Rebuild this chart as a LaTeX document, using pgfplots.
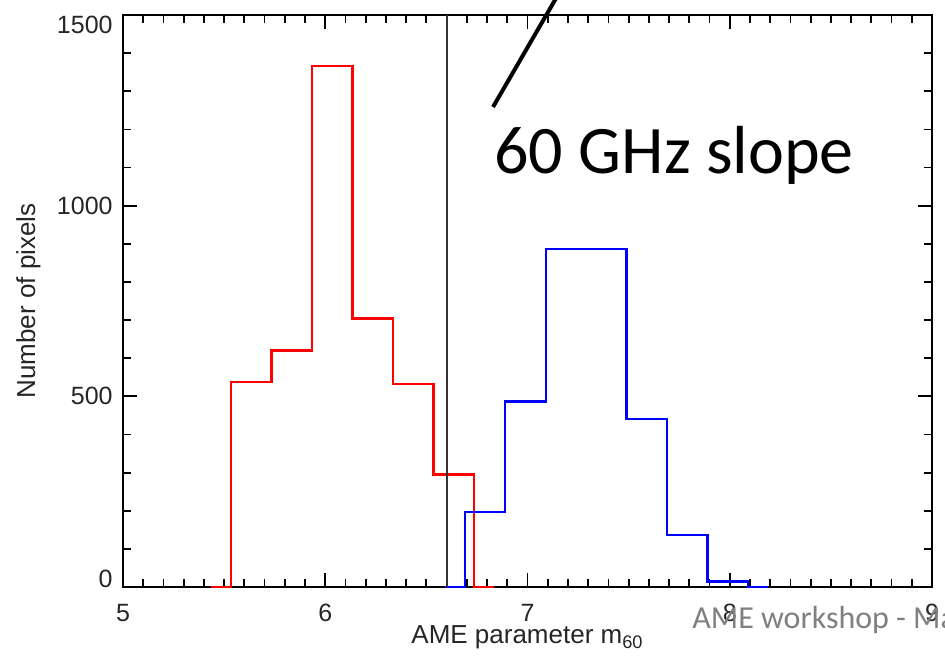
\documentclass[border=0pt]{standalone}
\usepackage{fontspec}
\setmainfont{Liberation Sans}
\newfontfamily\slidefont{Carlito}
\usepackage{pgfplots}
\pgfplotsset{compat=1.18}

\newcommand\ticksize{\fontsize{12.5}{15}\selectfont}
\newcommand\labelsize{\fontsize{13}{15.5}\selectfont}

% Histogram outlines: bin edges with the count of the bin that starts there
% (plotted as a left-aligned step function)
\pgfplotstableread{
x      n
5.435  0
5.535  537
5.735  620
5.935  1366
6.135  704
6.335  532
6.535  295
6.735  0
6.835  0
}\redhist
\pgfplotstableread{
x      n
6.59   0
6.69   197
6.89   486
7.09   886
7.29   886
7.49   441
7.69   136
7.89   14
8.09   0
8.19   0
}\bluehist

\begin{document}
\begin{tikzpicture}
\begin{axis}[
  scale only axis, width=404.5pt, height=286pt,
  xmin=5, xmax=9, ymin=0, ymax=1500,
  xtick={5,6,7,8,9},
  xticklabels={\ticksize 5,\ticksize 6,\ticksize 7,\ticksize 8,\ticksize 9},
  ytick={0,500,1000,1500},
  yticklabels={\ticksize\raisebox{4pt}[\height][\depth]{0},\ticksize 500,\ticksize 1000,\ticksize\raisebox{-4.75pt}[\height][\depth]{1500}},
  minor x tick num=9, minor y tick num=4,
  tick align=inside, xtick pos=both, ytick pos=both,
  xticklabel pos=lower, yticklabel pos=left,
  major tick length=7pt, minor tick length=4pt,
  every tick/.style={black, line width=0.9pt},
  axis line style={black, line width=1pt},
  tick label style={text=black!85, inner sep=0pt},
  xticklabel style={yshift=-8.5pt},
  yticklabel style={xshift=-5pt},
  xlabel={\labelsize AME parameter m\textsubscript{60}},
  ylabel={\labelsize Number of pixels},
  every axis x label/.style={at={(axis description cs:0.5,-0.088)}, anchor=center, inner sep=0pt, text=black!85},
  every axis y label/.style={at={(axis description cs:-0.117,0.5)}, rotate=90, anchor=center, inner sep=0pt, text=black!85},
  clip=false,
]
\addplot[red, line width=1.2pt, const plot mark left] table[x=x, y=n] {\redhist};
\addplot[blue, line width=1.2pt, const plot mark left] table[x=x, y=n] {\bluehist};
\addplot[black!80, line width=0.9pt] coordinates {(6.6,0) (6.6,1500)};
\coordinate (O) at (rel axis cs:0,0);
\end{axis}

% slide annotation, placed from the lower left corner of the plot box
\draw[line width=2pt] ([shift={(185pt,240pt)}]O) -- ([shift={(222.2pt,304.2pt)}]O);
\node[anchor=base west, inner sep=0pt, font=\slidefont\fontsize{34}{40}\selectfont]
  at ([shift={(185.5pt,207pt)}]O) {60 GHz slope};
\node[anchor=base west, inner sep=0pt, text=black!50, font=\slidefont\fontsize{16}{19}\selectfont]
  at ([shift={(284.5pt,-20.5pt)}]O) {AME workshop - Ma};

\pgfresetboundingbox
\path[use as bounding box] ([shift={(-61.5pt,-36.5pt)}]O) rectangle ([shift={(411pt,293.5pt)}]O);
\end{tikzpicture}
\end{document}
